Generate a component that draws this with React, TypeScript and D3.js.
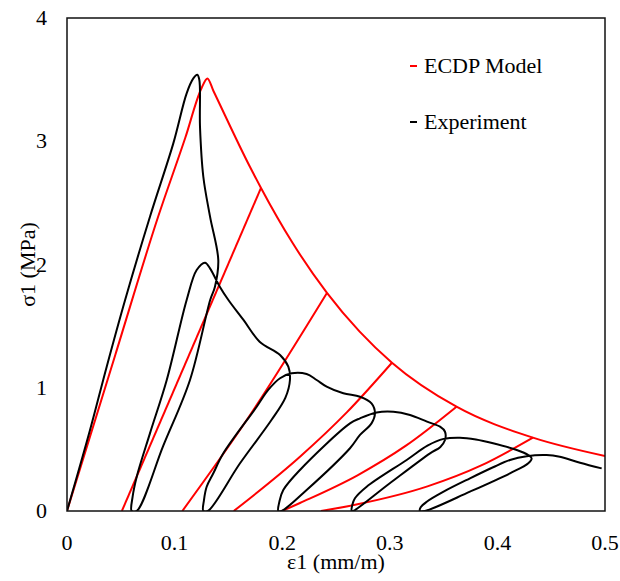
import React, { useEffect, useRef } from 'react';
import * as d3 from 'd3';

type Pt = [number, number];

const xTicks = [0, 0.1, 0.2, 0.3, 0.4, 0.5];
const yTicks = [0, 1, 2, 3, 4];

// ECDP model: monotonic envelope (strain mm/m, stress MPa)
const modelEnvelope: Pt[] = [
  [0, 0], [0.045, 1.27], [0.0846, 2.385], [0.11, 3.03], [0.125, 3.43], [0.1305, 3.51],
  [0.136, 3.41], [0.17, 2.793], [0.1803, 2.621], [0.21, 2.17], [0.2416, 1.77],
  [0.272, 1.455], [0.302, 1.203], [0.362, 0.846], [0.433, 0.595], [0.5, 0.446],
];

// ECDP model: unloading / reloading branches
const modelBranches: Pt[][] = [
  [[0.051, 0], [0.1803, 2.621]],
  [[0.1072, 0], [0.167, 0.738], [0.2416, 1.77]],
  [[0.155, 0], [0.2165, 0.44], [0.26, 0.8], [0.302, 1.203]],
  [[0.2, 0], [0.2165, 0.065], [0.27, 0.29], [0.315, 0.53], [0.362, 0.846]],
  [[0.236, 0], [0.27, 0.055], [0.335, 0.2], [0.385, 0.37], [0.433, 0.595]],
];

// Experiment, cycle by cycle
const expCycle1: Pt[] = [
  [0, 0], [0.0214, 0.657], [0.0369, 1.171], [0.054, 1.712], [0.0771, 2.388], [0.0988, 2.983],
  [0.1112, 3.389], [0.1174, 3.51], [0.1211, 3.54], [0.123, 3.497], [0.1236, 3.118],
  [0.1267, 2.712], [0.1329, 2.39], [0.1406, 2.036], [0.1375, 1.82],
  [0.133, 1.71], [0.1143, 1.063], [0.0895, 0.53], [0.0648, 0],
];
const expCycle2: Pt[] = [
  [0.0601, 0], [0.061, 0.116], [0.0648, 0.278], [0.0771, 0.63], [0.0927, 1.063],
  [0.1112, 1.712], [0.1205, 1.955], [0.1283, 2.015], [0.1329, 1.969], [0.142, 1.82],
  [0.15, 1.712], [0.164, 1.55], [0.179, 1.374], [0.198, 1.266], [0.2057, 1.171],
  [0.2072, 1.063], [0.203, 0.92], [0.19, 0.738], [0.1608, 0.387], [0.131, 0],
];
const expCycle3: Pt[] = [
  [0.1267, 0], [0.1273, 0.089], [0.1298, 0.197], [0.136, 0.306], [0.1453, 0.468],
  [0.1763, 0.846], [0.187, 0.982], [0.198, 1.077], [0.2088, 1.117], [0.2227, 1.111],
  [0.232, 1.063], [0.2413, 1.009], [0.2568, 0.955], [0.2723, 0.927], [0.283, 0.874],
  [0.2862, 0.793], [0.283, 0.711], [0.2723, 0.617], [0.263, 0.509], [0.2227, 0.17], [0.1995, 0],
];
const expCycle4: Pt[] = [
  [0.1964, 0], [0.1975, 0.08], [0.201, 0.17], [0.2165, 0.333], [0.263, 0.711],
  [0.2723, 0.752], [0.2878, 0.8], [0.3033, 0.806], [0.3188, 0.779], [0.3346, 0.725],
  [0.3467, 0.684], [0.3513, 0.643], [0.3513, 0.576], [0.347, 0.52], [0.3374, 0.468],
  [0.3, 0.225], [0.266, 0],
];
const expCycle5: Pt[] = [
  [0.2646, 0], [0.2652, 0.05], [0.2676, 0.103], [0.2785, 0.197], [0.3157, 0.414],
  [0.335, 0.53], [0.35, 0.585], [0.3652, 0.595], [0.38, 0.58], [0.396, 0.549],
  [0.418, 0.495], [0.4287, 0.454], [0.4318, 0.428], [0.4287, 0.387], [0.4117, 0.306],
  [0.3745, 0.157], [0.3327, 0],
];
const expCycle6: Pt[] = [
  [0.328, 0], [0.3287, 0.03], [0.3343, 0.075], [0.35, 0.157], [0.3745, 0.265],
  [0.396, 0.355], [0.4117, 0.414], [0.4272, 0.445], [0.4457, 0.454], [0.458, 0.44],
  [0.4768, 0.392], [0.4969, 0.346],
];

const legendItems = [
  { label: 'ECDP Model', color: '#ff0000' },
  { label: 'Experiment', color: '#000000' },
];

export default function App() {
  const ref = useRef<SVGSVGElement>(null);

  useEffect(() => {
    if (!ref.current) return;
    const width = 620;
    const height = 581;
    const m = { left: 67, right: 15, top: 18, bottom: 70 };
    const fs = 22;

    const svg = d3.select(ref.current);
    svg.selectAll('*').remove();

    const x = d3.scaleLinear().domain([0, 0.5]).range([m.left, width - m.right]);
    const y = d3.scaleLinear().domain([0, 4]).range([height - m.bottom, m.top]);

    svg.append('defs').append('clipPath').attr('id', 'plot-clip')
      .append('rect')
      .attr('x', x(0)).attr('y', y(4))
      .attr('width', x(0.5) - x(0)).attr('height', y(0) - y(4));

    const plot = svg.append('g').attr('clip-path', 'url(#plot-clip)');

    const smooth = d3.line<Pt>().x(d => x(d[0])).y(d => y(d[1])).curve(d3.curveMonotoneX);
    const loop = d3.line<Pt>().x(d => x(d[0])).y(d => y(d[1])).curve(d3.curveCatmullRom.alpha(0.5));

    // model
    plot.append('path').attr('d', smooth(modelEnvelope))
      .attr('fill', 'none').attr('stroke', '#ff0000').attr('stroke-width', 2);
    modelBranches.forEach(b => {
      plot.append('path').attr('d', smooth(b))
        .attr('fill', 'none').attr('stroke', '#ff0000').attr('stroke-width', 2);
    });

    // experiment
    const experiment = [...expCycle1, ...expCycle2, ...expCycle3, ...expCycle4, ...expCycle5, ...expCycle6];
    plot.append('path').attr('d', loop(experiment))
      .attr('fill', 'none').attr('stroke', '#000').attr('stroke-width', 2)
      .attr('stroke-linejoin', 'round');

    // frame
    svg.append('rect')
      .attr('x', x(0)).attr('y', y(4))
      .attr('width', x(0.5) - x(0)).attr('height', y(0) - y(4))
      .attr('fill', 'none').attr('stroke', '#111').attr('stroke-width', 1.5);

    // tick labels
    svg.append('g').selectAll('text').data(xTicks).join('text')
      .attr('x', d => x(d)).attr('y', y(0) + 39)
      .attr('text-anchor', 'middle')
      .attr('font-size', fs)
      .text(d => String(d));

    svg.append('g').selectAll('text').data(yTicks).join('text')
      .attr('x', x(0) - 20).attr('y', d => y(d) + 7)
      .attr('text-anchor', 'end')
      .attr('font-size', fs)
      .text(d => String(d));

    // axis titles
    svg.append('text')
      .attr('x', (x(0) + x(0.5)) / 2).attr('y', 569)
      .attr('text-anchor', 'middle')
      .attr('font-size', fs)
      .text('ε1 (mm/m)');

    svg.append('text')
      .attr('transform', `translate(35, ${(y(0) + y(4)) / 2}) rotate(-90)`)
      .attr('text-anchor', 'middle')
      .attr('font-size', fs)
      .text('σ1 (MPa)');

    // legend
    const lg = svg.append('g').attr('transform', 'translate(410, 66)');
    legendItems.forEach((item, i) => {
      const row = lg.append('g').attr('transform', `translate(0, ${i * 56})`);
      row.append('line')
        .attr('x1', 0).attr('x2', 7).attr('y1', 0).attr('y2', 0)
        .attr('stroke', item.color).attr('stroke-width', 2);
      row.append('text')
        .attr('x', 14).attr('y', 7)
        .attr('font-size', fs)
        .text(item.label);
    });
  }, []);

  return (
    <svg
      ref={ref}
      width={620}
      height={581}
      style={{
        position: 'absolute', left: 0, top: 0, background: '#fff',
        fontFamily: "'Liberation Serif', 'Times New Roman', serif",
      }}
    />
  );
}
